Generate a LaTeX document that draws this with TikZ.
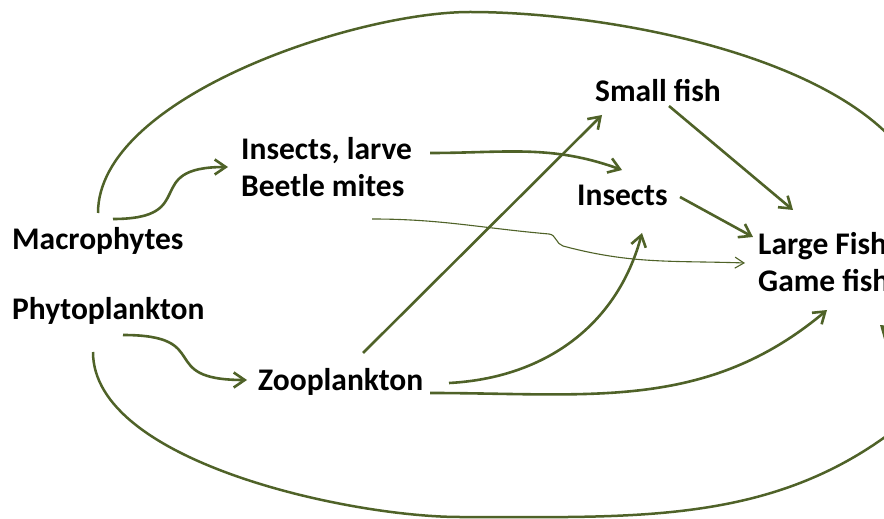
\documentclass[tikz,border=0pt]{standalone}
\usepackage{fontspec}
\setmainfont{Carlito}
\usetikzlibrary{arrows.meta}
\definecolor{folive}{RGB}{79,98,40}
\tikzset{
  taxon/.style={font=\fontsize{31.5bp}{37bp}\selectfont\bfseries,inner sep=0pt,anchor=base west,align=left},
  feeds/.style={draw=folive,line width=2.6bp,-{Straight Barb[length=11bp,width=15bp]}},
  thinfeed/.style={draw=folive,line width=1.1bp,-{Straight Barb[length=9bp,width=11bp]}},
  bigloop/.style={draw=folive,line width=2.5bp,-{Straight Barb[length=11bp,width=15bp]}}
}

\begin{document}
\begin{tikzpicture}[x=1bp,y=-1bp]
  \useasboundingbox (0,0) rectangle (884,519);
  \node[taxon] (macro) at (12,250) {Macrophytes};
  \node[taxon] (phyto) at (12,320) {Phytoplankton};
  \node[taxon] (insl) at (241,197) {Insects, larve\\Beetle mites};
  \node[taxon] (small) at (595,102) {Small fish};
  \node[taxon] (ins) at (577,206) {Insects};
  \node[taxon] (large) at (758,292) {Large Fish\\Game fish};
  \node[taxon] (zoo) at (258,390) {Zooplankton};

  \draw[feeds] ([shift={(101,-31)}]macro.base west) to[out=0,in=180,looseness=1.8] ([shift={(-13,-30)}]insl.base west);
  \draw[feeds] ([shift={(111,15)}]phyto.base west) to[out=0,in=180,looseness=1.8] ([shift={(-11,-10)}]zoo.base west);
  \draw[feeds] ([shift={(105,-37)}]zoo.base west) -- ([shift={(7,13)}]small.base west);
  \draw[feeds] ([shift={(191,-7)}]zoo.base west) to[out=3,in=-105] ([shift={(65,27)}]ins.base west);
  \draw[feeds] ([shift={(172,3)}]zoo.base west) to[out=0,in=-140] ([shift={(69,18)}]large.base west);
  \draw[feeds] ([shift={(189,-44)}]insl.base west) to[out=0,in=160] ([shift={(45,-36)}]ins.base west);
  \draw[feeds] ([shift={(74,4)}]small.base west) -- ([shift={(35,-82)}]large.base west);
  \draw[feeds] ([shift={(103,-9)}]ins.base west) -- ([shift={(-5,-55)}]large.base west);
  \draw[thinfeed] ([shift={(131,22)}]insl.base west) to[out=0,in=175] ++(177,15)
    to[out=-5,in=165] ++(14,12) to[out=-15,in=178] ([shift={(-13,-29)}]large.base west);

  \draw[bigloop] ([shift={(86,-37)}]macro.base west) to[out=90,in=180,looseness=0.7] ++(372,-201)
    to[out=0,in=90,looseness=0.8] ([shift={(172,-62)}]large.base west);
  \draw[bigloop] ([shift={(81,32)}]phyto.base west) to[out=-90,in=180,looseness=0.7] ++(367,165)
    to[out=0,in=-135] ++(480,-127) to[out=45,in=-40] ([shift={(122,33)}]large.base west);
\end{tikzpicture}
\end{document}
